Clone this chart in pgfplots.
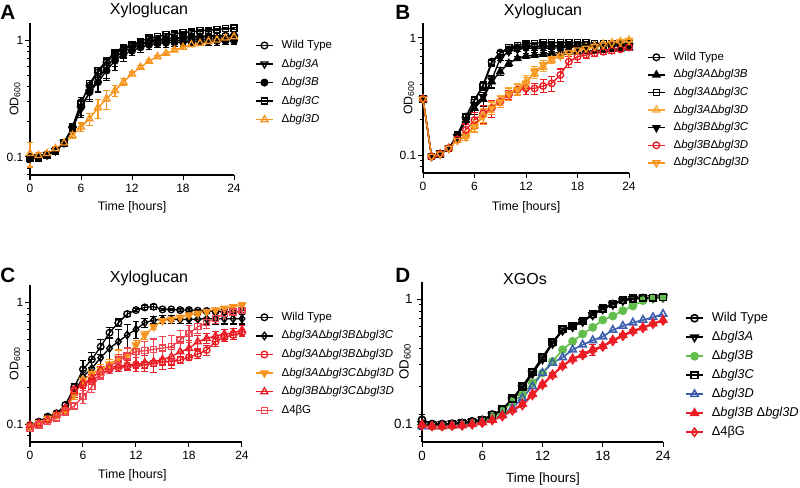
\documentclass[border=0pt]{standalone}
\usepackage{pgfplots}
\pgfplotsset{compat=1.18}
\usepackage{fontspec}
\setmainfont{Liberation Sans}
\definecolor{cOr}{HTML}{F7941D}
\definecolor{cOrL}{HTML}{FBAA3C}
\definecolor{cRed}{HTML}{EC1C24}
\definecolor{cRedL}{HTML}{EF4550}
\definecolor{cGreen}{HTML}{62BD4C}
\definecolor{cBlue}{HTML}{3E5FAE}
\pgfplotsset{
  prism/.style={
    scale only axis,
    axis x line*=bottom, axis y line*=left,
    xmin=0, xmax=24, xtick={0,6,12,18,24},
    ytick={0.1,1}, yticklabels={0.1,1},
    minor ytick={0.07,0.08,0.09,0.2,0.3,0.4,0.5,0.6,0.7,0.8,0.9},
    tick align=outside, major tick length=3.5pt, minor tick length=2.5pt,
    every tick/.style={black, line width=0.75pt},
    axis line style={line width=0.8pt},
    clip=false,
    tick label style={font=\fontsize{9}{10}\selectfont},
    label style={font=\fontsize{9.3}{10}\selectfont},
    xlabel={Time [hours]}, ylabel={OD\textsubscript{600}},
    legend cell align=left,
    legend image code/.code={\draw[mark repeat=2,mark phase=2] plot coordinates {(0pt,0pt) (6.4pt,0pt) (12.8pt,0pt)};},
    legend style={draw=none, fill=none, inner sep=0pt, anchor=north west, font=\fontsize{8.6}{10}\selectfont, nodes={inner sep=0pt, text height=6.5pt, text depth=2pt}, column sep=6pt},
    every axis plot/.append style={line width=1pt, mark size=2.5pt},
  },
  eb/.style={/pgfplots/error bars/y dir=both, /pgfplots/error bars/y explicit,
    /pgfplots/error bars/error bar style={line width=0.8pt, solid},
    /pgfplots/error bars/error mark options={rotate=90, mark size=2.6pt, line width=0.8pt}},
}
\begin{document}
\begin{tikzpicture}
\path[use as bounding box] (0,0) rectangle (600pt,366pt);
% ---------------- A ----------------
\begin{axis}[ymode=log, prism, /pgf/number format/assume math mode=true,
  yticklabel style={xshift=2pt},
  at={(22.5pt,234.75pt)}, anchor=south west, width=153pt, height=114pt,
  ymin=0.070, ymax=1.42,
  ylabel style={at={(axis description cs:-0.0735,0.5)}, anchor=center},
  xlabel style={at={(axis description cs:0.5,-0.215)}, anchor=center},
  legend style={at={(1.103,0.891)}, row sep=5.4pt}]
\addplot[black, mark=o, eb] table[x=t, y=v, y error=e, row sep=\\] {t v e\\
0 0.100 0.005\\ 1 0.100 0.004\\ 2 0.105 0.004\\ 3 0.114 0.005\\ 4 0.132 0.006\\ 5 0.181 0.012\\
6 0.296 0.03\\ 7 0.411 0.04\\ 8 0.535 0.05\\ 9 0.652 0.06\\ 10 0.768 0.07\\ 11 0.848 0.06\\
12 0.906 0.05\\ 13 0.949 0.04\\ 14 0.987 0.04\\ 15 1.013 0.04\\ 16 1.033 0.04\\ 17 1.054 0.04\\
18 1.068 0.04\\ 19 1.082 0.04\\ 20 1.090 0.04\\ 21 1.096 0.04\\ 22 1.104 0.04\\ 23 1.104 0.04\\ 24 1.110 0.04\\};
\addlegendentry{Wild Type}
\addplot[black, mark=triangle, mark size=3pt, mark options={rotate=180}, eb] table[x=t, y=v, y error=e, row sep=\\] {t v e\\
0 0.098 0.005\\ 1 0.100 0.004\\ 2 0.104 0.004\\ 3 0.113 0.005\\ 4 0.132 0.006\\ 5 0.175 0.012\\
6 0.260 0.04\\ 7 0.361 0.06\\ 8 0.469 0.10\\ 9 0.591 0.12\\ 10 0.720 0.12\\ 11 0.810 0.10\\
12 0.865 0.08\\ 13 0.924 0.07\\ 14 0.968 0.07\\ 15 0.987 0.07\\ 16 1.000 0.07\\ 17 1.000 0.07\\
18 1.013 0.07\\ 19 1.013 0.07\\ 20 1.027 0.07\\ 21 1.033 0.07\\ 22 1.033 0.07\\ 23 1.040 0.07\\ 24 1.054 0.07\\};
\addlegendentry{Δ\textit{bgl3A}}
\addplot[black, mark=*, eb] table[x=t, y=v, y error=e, row sep=\\] {t v e\\
0 0.097 0.005\\ 1 0.100 0.004\\ 2 0.104 0.004\\ 3 0.113 0.005\\ 4 0.132 0.006\\ 5 0.178 0.012\\
6 0.268 0.04\\ 7 0.361 0.05\\ 8 0.440 0.08\\ 9 0.553 0.10\\ 10 0.674 0.12\\ 11 0.768 0.10\\
12 0.821 0.08\\ 13 0.877 0.08\\ 14 0.924 0.08\\ 15 0.949 0.08\\ 16 0.961 0.08\\ 17 0.968 0.08\\
18 0.974 0.08\\ 19 0.980 0.08\\ 20 0.987 0.08\\ 21 0.987 0.08\\ 22 0.993 0.08\\ 23 1.000 0.08\\ 24 1.000 0.08\\};
\addlegendentry{Δ\textit{bgl3B}}
\addplot[black, mark=square, mark size=2.3pt, eb] table[x=t, y=v, y error=e, row sep=\\] {t v e\\
0 0.097 0.005\\ 1 0.097 0.004\\ 2 0.103 0.004\\ 3 0.113 0.005\\ 4 0.132 0.006\\ 5 0.181 0.01\\
6 0.286 0.02\\ 7 0.426 0.03\\ 8 0.553 0.03\\ 9 0.674 0.03\\ 10 0.794 0.03\\ 11 0.865 0.03\\
12 0.924 0.03\\ 13 0.987 0.03\\ 14 1.054 0.03\\ 15 1.082 0.03\\ 16 1.126 0.03\\ 17 1.140 0.03\\
18 1.180 0.03\\ 19 1.190 0.03\\ 20 1.220 0.03\\ 21 1.230 0.03\\ 22 1.250 0.03\\ 23 1.270 0.03\\ 24 1.280 0.03\\};
\addlegendentry{Δ\textit{bgl3C}}
\addplot[cOr, mark=triangle, mark size=3pt, eb] table[x=t, y=v, y error=e, row sep=\\] {t v e\\
0 0.107 0.025\\ 1 0.103 0.006\\ 2 0.107 0.005\\ 3 0.118 0.005\\ 4 0.132 0.006\\ 5 0.153 0.008\\
6 0.181 0.015\\ 7 0.213 0.025\\ 8 0.265 0.05\\ 9 0.316 0.06\\ 10 0.373 0.04\\ 11 0.440 0.03\\
12 0.518 0.02\\ 13 0.591 0.02\\ 14 0.665 0.02\\ 15 0.729 0.02\\ 16 0.779 0.02\\ 17 0.832 0.03\\
18 0.877 0.03\\ 19 0.924 0.03\\ 20 0.949 0.03\\ 21 0.987 0.03\\ 22 1.013 0.03\\ 23 1.054 0.03\\ 24 1.082 0.03\\};
\addlegendentry{Δ\textit{bgl3D}}
\end{axis}
% ---------------- B ----------------
\begin{axis}[ymode=log, prism, /pgf/number format/assume math mode=true,
  yticklabel style={xshift=2pt},
  at={(317.25pt,236.25pt)}, anchor=south west, width=154.5pt, height=112.5pt,
  ymin=0.0702, ymax=1.343,
  ylabel style={at={(axis description cs:-0.068,0.5)}, anchor=center},
  xlabel style={at={(axis description cs:0.5,-0.23)}, anchor=center},
  legend style={at={(1.087,0.811)}, row sep=4.7pt}]
\addplot[black, mark=o, eb] table[x=t, y=v, y error=e, row sep=\\] {t v e\\
0 0.301 0.02\\ 1 0.097 0.004\\ 2 0.102 0.004\\ 3 0.114 0.005\\ 4 0.148 0.006\\ 5 0.213 0.01\\
6 0.295 0.02\\ 7 0.397 0.03\\ 8 0.628 0.03\\ 9 0.750 0.03\\ 10 0.800 0.03\\ 11 0.832 0.03\\
12 0.843 0.03\\ 13 0.843 0.03\\ 14 0.854 0.03\\ 15 0.854 0.03\\ 16 0.854 0.03\\ 17 0.854 0.03\\
18 0.854 0.03\\ 19 0.866 0.03\\ 20 0.866 0.03\\ 21 0.866 0.03\\ 22 0.866 0.03\\ 23 0.866 0.03\\ 24 0.871 0.03\\};
\addlegendentry{Wild Type}
\addplot[black, mark=triangle*, mark size=3pt, eb] table[x=t, y=v, y error=e, row sep=\\] {t v e\\
0 0.301 0.02\\ 1 0.097 0.004\\ 2 0.102 0.004\\ 3 0.114 0.005\\ 4 0.143 0.006\\ 5 0.199 0.01\\
6 0.251 0.03\\ 7 0.300 0.04\\ 8 0.424 0.05\\ 9 0.516 0.04\\ 10 0.607 0.04\\ 11 0.670 0.03\\
12 0.702 0.03\\ 13 0.716 0.03\\ 14 0.725 0.03\\ 15 0.740 0.03\\ 16 0.750 0.03\\ 17 0.759 0.03\\
18 0.764 0.03\\ 19 0.774 0.03\\ 20 0.780 0.03\\ 21 0.789 0.03\\ 22 0.800 0.03\\ 23 0.811 0.03\\ 24 0.822 0.03\\};
\addlegendentry{Δ\textit{bgl3A}Δ\textit{bgl3B}}
\addplot[black, mark=square, mark size=2.3pt, eb] table[x=t, y=v, y error=e, row sep=\\] {t v e\\
0 0.301 0.02\\ 1 0.097 0.004\\ 2 0.102 0.004\\ 3 0.114 0.005\\ 4 0.148 0.006\\ 5 0.213 0.01\\
6 0.295 0.02\\ 7 0.384 0.03\\ 8 0.607 0.03\\ 9 0.740 0.03\\ 10 0.832 0.02\\ 11 0.866 0.02\\
12 0.889 0.02\\ 13 0.900 0.02\\ 14 0.912 0.02\\ 15 0.912 0.02\\ 16 0.912 0.02\\ 17 0.912 0.02\\
18 0.912 0.02\\ 19 0.912 0.02\\ 20 0.900 0.02\\ 21 0.900 0.02\\ 22 0.900 0.02\\ 23 0.900 0.02\\ 24 0.900 0.02\\};
\addlegendentry{Δ\textit{bgl3A}Δ\textit{bgl3C}}
\addplot[cOrL, mark=triangle, mark size=3pt, eb] table[x=t, y=v, y error=e, row sep=\\] {t v e\\
0 0.301 0.02\\ 1 0.097 0.004\\ 2 0.102 0.004\\ 3 0.114 0.005\\ 4 0.134 0.006\\ 5 0.148 0.01\\
6 0.180 0.02\\ 7 0.220 0.03\\ 8 0.259 0.03\\ 9 0.295 0.03\\ 10 0.336 0.04\\ 11 0.371 0.04\\
12 0.424 0.05\\ 13 0.499 0.05\\ 14 0.569 0.05\\ 15 0.649 0.04\\ 16 0.716 0.03\\ 17 0.764 0.03\\
18 0.800 0.03\\ 19 0.832 0.03\\ 20 0.854 0.03\\ 21 0.889 0.03\\ 22 0.912 0.03\\ 23 0.936 0.03\\ 24 0.961 0.03\\};
\addlegendentry{Δ\textit{bgl3A}Δ\textit{bgl3D}}
\addplot[black, mark=triangle*, mark size=3pt, mark options={rotate=180}, eb] table[x=t, y=v, y error=e, row sep=\\] {t v e\\
0 0.301 0.02\\ 1 0.097 0.004\\ 2 0.102 0.004\\ 3 0.114 0.005\\ 4 0.143 0.006\\ 5 0.199 0.01\\
6 0.268 0.03\\ 7 0.315 0.03\\ 8 0.438 0.03\\ 9 0.670 0.03\\ 10 0.764 0.03\\ 11 0.800 0.03\\
12 0.816 0.03\\ 13 0.816 0.03\\ 14 0.816 0.03\\ 15 0.822 0.03\\ 16 0.822 0.03\\ 17 0.832 0.03\\
18 0.832 0.03\\ 19 0.843 0.03\\ 20 0.843 0.03\\ 21 0.854 0.03\\ 22 0.854 0.03\\ 23 0.854 0.03\\ 24 0.854 0.03\\};
\addlegendentry{Δ\textit{bgl3B}Δ\textit{bgl3C}}
\addplot[cRed, mark=o, eb] table[x=t, y=v, y error=e, row sep=\\] {t v e\\
0 0.301 0.02\\ 1 0.097 0.004\\ 2 0.102 0.004\\ 3 0.114 0.005\\ 4 0.136 0.006\\ 5 0.164 0.02\\
6 0.199 0.03\\ 7 0.227 0.04\\ 8 0.251 0.04\\ 9 0.286 0.03\\ 10 0.326 0.03\\ 11 0.360 0.04\\
12 0.371 0.04\\ 13 0.371 0.04\\ 14 0.389 0.05\\ 15 0.410 0.06\\ 16 0.483 0.06\\ 17 0.628 0.07\\
18 0.692 0.07\\ 19 0.716 0.05\\ 20 0.740 0.04\\ 21 0.764 0.04\\ 22 0.780 0.04\\ 23 0.800 0.04\\ 24 0.832 0.04\\};
\addlegendentry{Δ\textit{bgl3B}Δ\textit{bgl3D}}
\addplot[cOr, mark=triangle, mark size=3pt, mark options={rotate=180}, eb] table[x=t, y=v, y error=e, row sep=\\] {t v e\\
0 0.301 0.02\\ 1 0.097 0.004\\ 2 0.102 0.004\\ 3 0.114 0.005\\ 4 0.133 0.006\\ 5 0.143 0.01\\
6 0.175 0.02\\ 7 0.213 0.03\\ 8 0.251 0.03\\ 9 0.286 0.03\\ 10 0.332 0.04\\ 11 0.360 0.04\\
12 0.410 0.05\\ 13 0.516 0.05\\ 14 0.588 0.05\\ 15 0.657 0.04\\ 16 0.702 0.03\\ 17 0.750 0.03\\
18 0.789 0.03\\ 19 0.816 0.03\\ 20 0.843 0.03\\ 21 0.871 0.03\\ 22 0.900 0.03\\ 23 0.924 0.03\\ 24 0.949 0.03\\};
\addlegendentry{Δ\textit{bgl3C}Δ\textit{bgl3D}}
\end{axis}
% ---------------- C ----------------
\begin{axis}[ymode=log, prism, /pgf/number format/assume math mode=true,
  yticklabel style={xshift=2pt},
  at={(22.5pt,34.5pt)}, anchor=south west, width=159pt, height=117.75pt,
  ymin=0.0711, ymax=1.40,
  ylabel style={at={(axis description cs:-0.0708,0.5)}, anchor=center},
  xlabel style={at={(axis description cs:0.483,-0.21)}, anchor=center},
  legend style={at={(1.061,0.832)}, row sep=5.45pt}]
\addplot[black, mark=o, eb] table[x=t, y=v, y error=e, row sep=\\] {t v e\\
0 0.098 0.005\\ 1 0.1045 0.005\\ 2 0.115 0.005\\ 3 0.1225 0.005\\ 4 0.1435 0.008\\ 5 0.2005 0.015\\
6 0.282 0.05\\ 7 0.341 0.05\\ 8 0.434 0.06\\ 9 0.566 0.06\\ 10 0.684 0.05\\ 11 0.806 0.04\\
12 0.870 0.03\\ 13 0.915 0.04\\ 14 0.927 0.04\\ 15 0.881 0.02\\ 16 0.881 0.02\\ 17 0.870 0.02\\
18 0.870 0.02\\ 19 0.859 0.02\\ 20 0.854 0.02\\ 21 0.848 0.02\\ 22 0.843 0.02\\ 23 0.843 0.02\\ 24 0.843 0.02\\};
\addlegendentry{Wild Type}
\addplot[black, mark=diamond, mark size=2.8pt, eb] table[x=t, y=v, y error=e, row sep=\\] {t v e\\
0 0.0951 0.005\\ 1 0.1026 0.005\\ 2 0.1114 0.005\\ 3 0.1209 0.005\\ 4 0.1346 0.008\\ 5 0.179 0.015\\
6 0.2455 0.03\\ 7 0.2875 0.05\\ 8 0.352 0.07\\ 9 0.4205 0.10\\ 10 0.4775 0.12\\ 11 0.542 0.12\\
12 0.603 0.10\\ 13 0.684 0.06\\ 14 0.7195 0.05\\ 15 0.729 0.05\\ 16 0.729 0.05\\ 17 0.729 0.05\\
18 0.729 0.06\\ 19 0.7335 0.06\\ 20 0.738 0.07\\ 21 0.738 0.07\\ 22 0.738 0.07\\ 23 0.738 0.07\\ 24 0.738 0.07\\};
\addlegendentry{Δ\textit{bgl3A}Δ\textit{bgl3B}Δ\textit{bgl3C}}
\addplot[cRed, mark=o, eb] table[x=t, y=v, y error=e, row sep=\\] {t v e\\
0 0.0951 0.005\\ 1 0.1013 0.005\\ 2 0.1079 0.005\\ 3 0.1186 0.005\\ 4 0.1303 0.008\\ 5 0.1906 0.02\\
6 0.2096 0.02\\ 7 0.2305 0.02\\ 8 0.2535 0.02\\ 9 0.282 0.02\\ 10 0.2931 0.02\\ 11 0.3006 0.02\\
12 0.3063 0.02\\ 13 0.3063 0.02\\ 14 0.3162 0.02\\ 15 0.3266 0.02\\ 16 0.3266 0.02\\ 17 0.3368 0.02\\
18 0.3543 0.02\\ 19 0.3775 0.03\\ 20 0.4074 0.04\\ 21 0.4771 0.04\\ 22 0.518 0.04\\ 23 0.5416 0.04\\ 24 0.566 0.04\\};
\addlegendentry{Δ\textit{bgl3A}Δ\textit{bgl3B}Δ\textit{bgl3D}}
\addplot[cOr, mark=triangle*, mark size=3pt, mark options={rotate=180}, eb] table[x=t, y=v, y error=e, row sep=\\] {t v e\\
0 0.0963 0.005\\ 1 0.1026 0.005\\ 2 0.1114 0.005\\ 3 0.1186 0.005\\ 4 0.1303 0.008\\ 5 0.1734 0.015\\
6 0.2305 0.02\\ 7 0.2617 0.02\\ 8 0.282 0.03\\ 9 0.312 0.03\\ 10 0.3477 0.06\\ 11 0.3705 0.05\\
12 0.448 0.04\\ 13 0.5416 0.04\\ 14 0.634 0.03\\ 15 0.711 0.03\\ 16 0.729 0.03\\ 17 0.757 0.03\\
18 0.791 0.03\\ 19 0.817 0.03\\ 20 0.843 0.03\\ 21 0.870 0.03\\ 22 0.898 0.03\\ 23 0.927 0.03\\ 24 0.957 0.04\\};
\addlegendentry{Δ\textit{bgl3A}Δ\textit{bgl3C}Δ\textit{bgl3D}}
\addplot[cRed, mark=triangle, mark size=3pt, eb] table[x=t, y=v, y error=e, row sep=\\] {t v e\\
0 0.098 0.005\\ 1 0.1013 0.005\\ 2 0.1079 0.005\\ 3 0.1186 0.005\\ 4 0.1346 0.008\\ 5 0.1847 0.02\\
6 0.2163 0.02\\ 7 0.2378 0.02\\ 8 0.2786 0.02\\ 9 0.2931 0.02\\ 10 0.3006 0.03\\ 11 0.3063 0.03\\
12 0.3120 0.04\\ 13 0.3202 0.05\\ 14 0.3266 0.06\\ 15 0.341 0.06\\ 16 0.3589 0.07\\ 17 0.3947 0.08\\
18 0.4205 0.07\\ 19 0.4771 0.06\\ 20 0.5082 0.05\\ 21 0.5312 0.05\\ 22 0.552 0.05\\ 23 0.566 0.05\\ 24 0.5953 0.05\\};
\addlegendentry{Δ\textit{bgl3B}Δ\textit{bgl3C}Δ\textit{bgl3D}}
\addplot[cRedL, mark=square, mark size=2.3pt, eb] table[x=t, y=v, y error=e, row sep=\\] {t v e\\
0 0.0921 0.005\\ 1 0.098 0.005\\ 2 0.1045 0.005\\ 3 0.1114 0.005\\ 4 0.1264 0.008\\ 5 0.1407 0.01\\
6 0.168 0.02\\ 7 0.2031 0.02\\ 8 0.2535 0.02\\ 9 0.2931 0.03\\ 10 0.3368 0.04\\ 11 0.3634 0.06\\
12 0.3946 0.07\\ 13 0.4022 0.08\\ 14 0.4125 0.09\\ 15 0.4228 0.10\\ 16 0.4338 0.10\\ 17 0.4924 0.10\\
18 0.5588 0.09\\ 19 0.6343 0.08\\ 20 0.684 0.07\\ 21 0.7428 0.07\\ 22 0.8167 0.07\\ 23 0.840 0.06\\ 24 0.8593 0.06\\};
\addlegendentry{Δ4βG}
\end{axis}
% ---------------- D ----------------
\begin{axis}[ymode=log, prism, /pgf/number format/assume math mode=true,
  at={(316.5pt,34.5pt)}, anchor=south west, width=180.75pt, height=120.2pt,
  ymin=0.0718, ymax=1.375,
  tick label style={font=\fontsize{10}{11}\selectfont},
  label style={font=\fontsize{10}{11}\selectfont},
  every axis plot/.append style={line width=1.2pt, mark size=2.7pt},
  ylabel style={at={(axis description cs:-0.0705,0.5)}, anchor=center},
  xlabel style={at={(axis description cs:0.502,-0.234)}, anchor=center},
  legend style={at={(1.091,0.813)}, row sep=4.85pt, font=\fontsize{9.6}{11}\selectfont, nodes={inner sep=0pt, text height=7.2pt, text depth=2.2pt}}]
\addplot[black, mark=o, eb] table[x=t, y=v, y error=e, row sep=\\] {t v e\\
0 0.108 0.012\\ 1 0.100 0.002\\ 2 0.100 0.002\\ 3 0.1006 0.002\\ 4 0.102 0.002\\ 5 0.105 0.002\\
6 0.108 0.002\\ 7 0.119 0.002\\ 8 0.130 0.003\\ 9 0.157 0.003\\ 10 0.197 0.004\\ 11 0.259 0.005\\
12 0.337 0.006\\ 13 0.445 0.008\\ 14 0.568 0.01\\ 15 0.604 0.01\\ 16 0.663 0.01\\ 17 0.750 0.01\\
18 0.837 0.01\\ 19 0.912 0.01\\ 20 0.976 0.01\\ 21 1.006 0.01\\ 22 1.019 0.01\\ 23 1.019 0.01\\ 24 1.031 0.01\\};
\addlegendentry{Wild Type}
\addplot[black, mark=triangle, mark size=3.2pt, mark options={rotate=180}] table[x=t, y=v, row sep=\\] {t v\\
0 0.100\\ 1 0.0988\\ 2 0.100\\ 3 0.101\\ 4 0.102\\ 5 0.104\\ 6 0.108\\ 7 0.117\\ 8 0.128\\ 9 0.154\\
10 0.193\\ 11 0.252\\ 12 0.330\\ 13 0.440\\ 14 0.560\\ 15 0.600\\ 16 0.660\\ 17 0.745\\ 18 0.832\\
19 0.905\\ 20 0.970\\ 21 1.000\\ 22 1.015\\ 23 1.020\\ 24 1.030\\};
\addlegendentry{Δ\textit{bgl3A}}
\addplot[cGreen, mark=*] table[x=t, y=v, row sep=\\] {t v\\
0 0.0988\\ 1 0.0958\\ 2 0.0958\\ 3 0.097\\ 4 0.0988\\ 5 0.1012\\ 6 0.105\\ 7 0.113\\ 8 0.126\\ 9 0.150\\
10 0.172\\ 11 0.213\\ 12 0.256\\ 13 0.317\\ 14 0.393\\ 15 0.458\\ 16 0.525\\ 17 0.593\\ 18 0.679\\
19 0.731\\ 20 0.807\\ 21 0.879\\ 22 0.970\\ 23 1.012\\ 24 1.031\\};
\addlegendentry{Δ\textit{bgl3B}}
\addplot[black, mark=square, mark size=2.5pt] table[x=t, y=v, row sep=\\] {t v\\
0 0.098\\ 1 0.0988\\ 2 0.0988\\ 3 0.100\\ 4 0.101\\ 5 0.104\\ 6 0.107\\ 7 0.118\\ 8 0.131\\ 9 0.160\\
10 0.200\\ 11 0.262\\ 12 0.341\\ 13 0.450\\ 14 0.572\\ 15 0.610\\ 16 0.668\\ 17 0.755\\ 18 0.840\\
19 0.915\\ 20 0.978\\ 21 1.010\\ 22 1.020\\ 23 1.025\\ 24 1.035\\};
\addlegendentry{Δ\textit{bgl3C}}
\addplot[cBlue, mark=triangle, mark size=3.2pt] table[x=t, y=v, row sep=\\] {t v\\
0 0.0958\\ 1 0.0958\\ 2 0.097\\ 3 0.0976\\ 4 0.0988\\ 5 0.100\\ 6 0.1038\\ 7 0.108\\ 8 0.119\\ 9 0.134\\
10 0.1615\\ 11 0.200\\ 12 0.256\\ 13 0.308\\ 14 0.341\\ 15 0.393\\ 16 0.431\\ 17 0.467\\ 18 0.500\\
19 0.565\\ 20 0.608\\ 21 0.647\\ 22 0.679\\ 23 0.714\\ 24 0.759\\};
\addlegendentry{Δ\textit{bgl3D}}
\addplot[cRed, mark=triangle*, mark size=3.2pt, eb] table[x=t, y=v, y error=e, row sep=\\] {t v e\\
0 0.0988 0.002\\ 1 0.0958 0.002\\ 2 0.0958 0.002\\ 3 0.097 0.002\\ 4 0.0976 0.002\\ 5 0.100 0.002\\
6 0.1031 0.002\\ 7 0.108 0.002\\ 8 0.117 0.003\\ 9 0.130 0.003\\ 10 0.1445 0.004\\ 11 0.174 0.005\\
12 0.209 0.006\\ 13 0.248 0.008\\ 14 0.294 0.01\\ 15 0.333 0.01\\ 16 0.363 0.02\\ 17 0.396 0.04\\
18 0.421 0.01\\ 19 0.470 0.01\\ 20 0.515 0.01\\ 21 0.558 0.01\\ 22 0.593 0.01\\ 23 0.638 0.01\\ 24 0.679 0.01\\};
\addlegendentry{Δ\textit{bgl3B} Δ\textit{bgl3D}}
\addplot[cRed, mark=diamond, mark size=3pt] table[x=t, y=v, row sep=\\] {t v\\
0 0.0970\\ 1 0.0958\\ 2 0.0958\\ 3 0.0965\\ 4 0.097\\ 5 0.099\\ 6 0.102\\ 7 0.107\\ 8 0.115\\ 9 0.128\\
10 0.141\\ 11 0.170\\ 12 0.205\\ 13 0.245\\ 14 0.290\\ 15 0.328\\ 16 0.355\\ 17 0.385\\ 18 0.415\\
19 0.460\\ 20 0.505\\ 21 0.550\\ 22 0.585\\ 23 0.630\\ 24 0.670\\};
\addlegendentry{Δ4βG}
\end{axis}
% titles and panel letters
\node[anchor=base, font=\fontsize{12}{14}\selectfont] at (111.75pt,354.75pt) {Xyloglucan};
\node[anchor=base, font=\fontsize{12}{14}\selectfont] at (407.25pt,354pt) {Xyloglucan};
\node[anchor=base, font=\fontsize{12}{14}\selectfont] at (111.75pt,153.75pt) {Xyloglucan};
\node[anchor=base, font=\fontsize{12}{14}\selectfont] at (393.75pt,152.25pt) {XGOs};
\node[anchor=base west, inner sep=0pt, font=\fontsize{15.5}{17}\selectfont\bfseries] at (0pt,351pt) {A};
\node[anchor=base west, inner sep=0pt, font=\fontsize{15.5}{17}\selectfont\bfseries] at (296.25pt,351pt) {B};
\node[anchor=base west, inner sep=0pt, font=\fontsize{15.5}{17}\selectfont\bfseries] at (0pt,153.75pt) {C};
\node[anchor=base west, inner sep=0pt, font=\fontsize{15.5}{17}\selectfont\bfseries] at (296.25pt,153.75pt) {D};
\end{tikzpicture}
\end{document}
